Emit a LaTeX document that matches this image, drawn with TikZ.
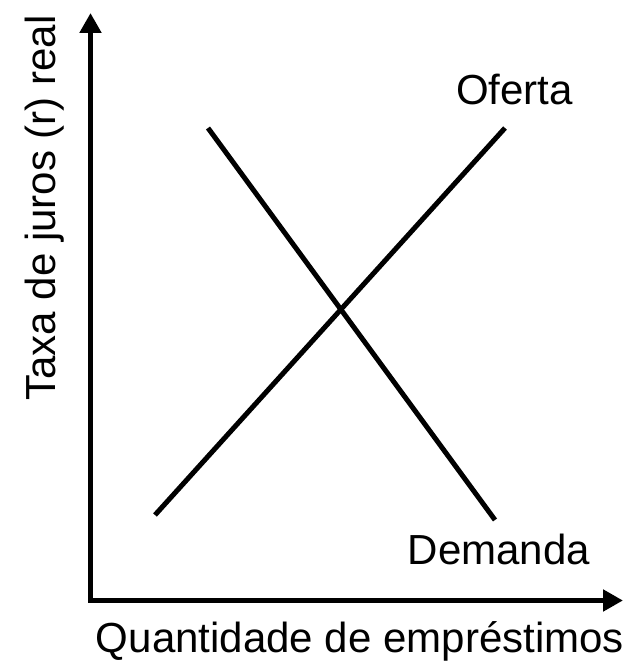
\documentclass[tikz,border=0pt]{standalone}
\usepackage{fontspec}
\setmainfont{Liberation Sans}
\usetikzlibrary{arrows.meta}

\tikzset{
	eixo/.style={line width=5bp, -{Triangle[length=20bp,width=21bp]}},
	curva/.style={line width=5bp},
	rotulo/.style={font=\fontsize{42.2}{48}\selectfont, inner sep=0pt, anchor=base}
}

\begin{document}
\begin{tikzpicture}[x=1bp, y=1bp]

	\useasboundingbox (0,0) rectangle (633,671);

	% eixos
	\coordinate (O) at (90.5, 70.5);
	\coordinate (topo) at (90.5, 658);
	\coordinate (fim) at (623, 70.5);

	\draw[eixo] ([yshift=-2.5bp]O) -- (topo);
	\draw[eixo] ([xshift=-2.5bp]O) -- (fim);

	% curvas
	\coordinate (of1) at (155, 156);
	\coordinate (of2) at (505, 543);
	\coordinate (de1) at (208, 543);
	\coordinate (de2) at (495, 151);

	\draw[curva] (of1) -- (of2);
	\draw[curva] (de1) -- (de2);

	\node[rotulo] (oferta) at (514.5, 566) {Oferta};
	\node[rotulo] (demanda) at (499, 106) {Demanda};

	\node[rotulo] (qtd) at (360, 18) {Quantidade de empréstimos};
	\node[rotulo, rotate=90] (taxa) at (55, 463) {Taxa de juros (r) real};

\end{tikzpicture}
\end{document}
